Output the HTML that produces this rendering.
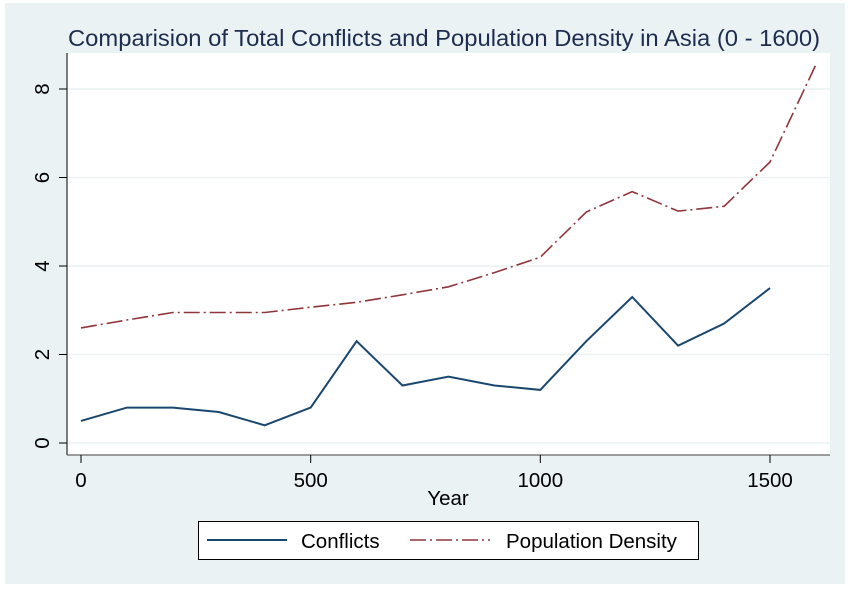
<!DOCTYPE html>
<html><head><style>body{margin:0;background:#fff}</style></head><body>
<svg width="850" height="587" xmlns="http://www.w3.org/2000/svg" font-family="Liberation Sans, sans-serif">
<rect x="5" y="3" width="840" height="581" fill="#eaf2f3"/>
<rect x="67" y="53" width="763" height="402" fill="#fff"/>
<g stroke="#eaf2f3" stroke-width="1.5">
<line x1="67" x2="830" y1="443" y2="443"/><line x1="67" x2="830" y1="354.5" y2="354.5"/>
<line x1="67" x2="830" y1="266" y2="266"/><line x1="67" x2="830" y1="177.5" y2="177.5"/>
<line x1="67" x2="830" y1="89" y2="89"/></g>
<line x1="67" y1="53" x2="67" y2="455" stroke="#000" stroke-width="1"/>
<line x1="67" y1="455" x2="830" y2="455" stroke="#666" stroke-width="1.2"/>
<g stroke="#000"><line x1="59" x2="67" y1="443" y2="443"/><line x1="59" x2="67" y1="354.5" y2="354.5"/><line x1="59" x2="67" y1="266" y2="266"/><line x1="59" x2="67" y1="177.5" y2="177.5"/><line x1="59" x2="67" y1="89" y2="89"/>
<line x1="81" x2="81" y1="455" y2="463"/><line x1="310.7" x2="310.7" y1="455" y2="463"/><line x1="540.3" x2="540.3" y1="455" y2="463"/><line x1="770" x2="770" y1="455" y2="463"/></g>
<g font-size="20.5" fill="#000" text-anchor="middle">
<text transform="translate(50,443) rotate(-90)" dy="-0.5" dominant-baseline="auto" y="0" x="0"><tspan dy="-1">0</tspan></text>
<text transform="translate(50,354.5) rotate(-90)" dy="-1">2</text>
<text transform="translate(50,266) rotate(-90)" dy="-1">4</text>
<text transform="translate(50,177.5) rotate(-90)" dy="-1">6</text>
<text transform="translate(50,89) rotate(-90)" dy="-1">8</text>
</g>
<g font-size="20.5" fill="#000" text-anchor="middle">
<text x="81" y="487">0</text><text x="310.7" y="487">500</text><text x="540.3" y="487">1000</text><text x="770" y="487">1500</text>
<text x="448" y="505">Year</text>
</g>
<text x="444" y="46" font-size="23.5" fill="#1e2c4f" text-anchor="middle" textLength="752" lengthAdjust="spacingAndGlyphs">Comparision of Total Conflicts and Population Density in Asia (0 - 1600)</text>
<polyline fill="none" stroke="#1a476f" stroke-width="2" points="81,420.9 126.9,407.6 172.9,407.6 218.8,412 264.7,425.3 310.7,407.6 356.6,341.2 402.5,385.5 448.5,376.6 494.4,385.5 540.3,389.9 586.3,341.2 632.2,297 678.1,345.7 724.1,323.5 770,288.1"/>
<polyline fill="none" stroke="#90353b" stroke-width="1.6" stroke-dasharray="16,4,2,4" points="81,327.9 126.9,320 172.9,312.5 218.8,312.5 264.7,312.5 310.7,307.2 356.6,302.3 402.5,294.8 448.5,286.8 494.4,272.6 540.3,257.2 586.3,212 632.2,191.6 678.1,211.1 724.1,206.3 770,162 815.9,64.7"/>
<rect x="198.5" y="521.5" width="500" height="38" fill="#fff" stroke="#000"/>
<line x1="207" x2="287" y1="540" y2="540" stroke="#1a476f" stroke-width="2"/>
<text x="301" y="548" font-size="20.5">Conflicts</text>
<line x1="410" x2="490" y1="540" y2="540" stroke="#90353b" stroke-width="1.6" stroke-dasharray="16,4,2,4"/>
<text x="506" y="548" font-size="20.5">Population Density</text>
</svg>
</body></html>
